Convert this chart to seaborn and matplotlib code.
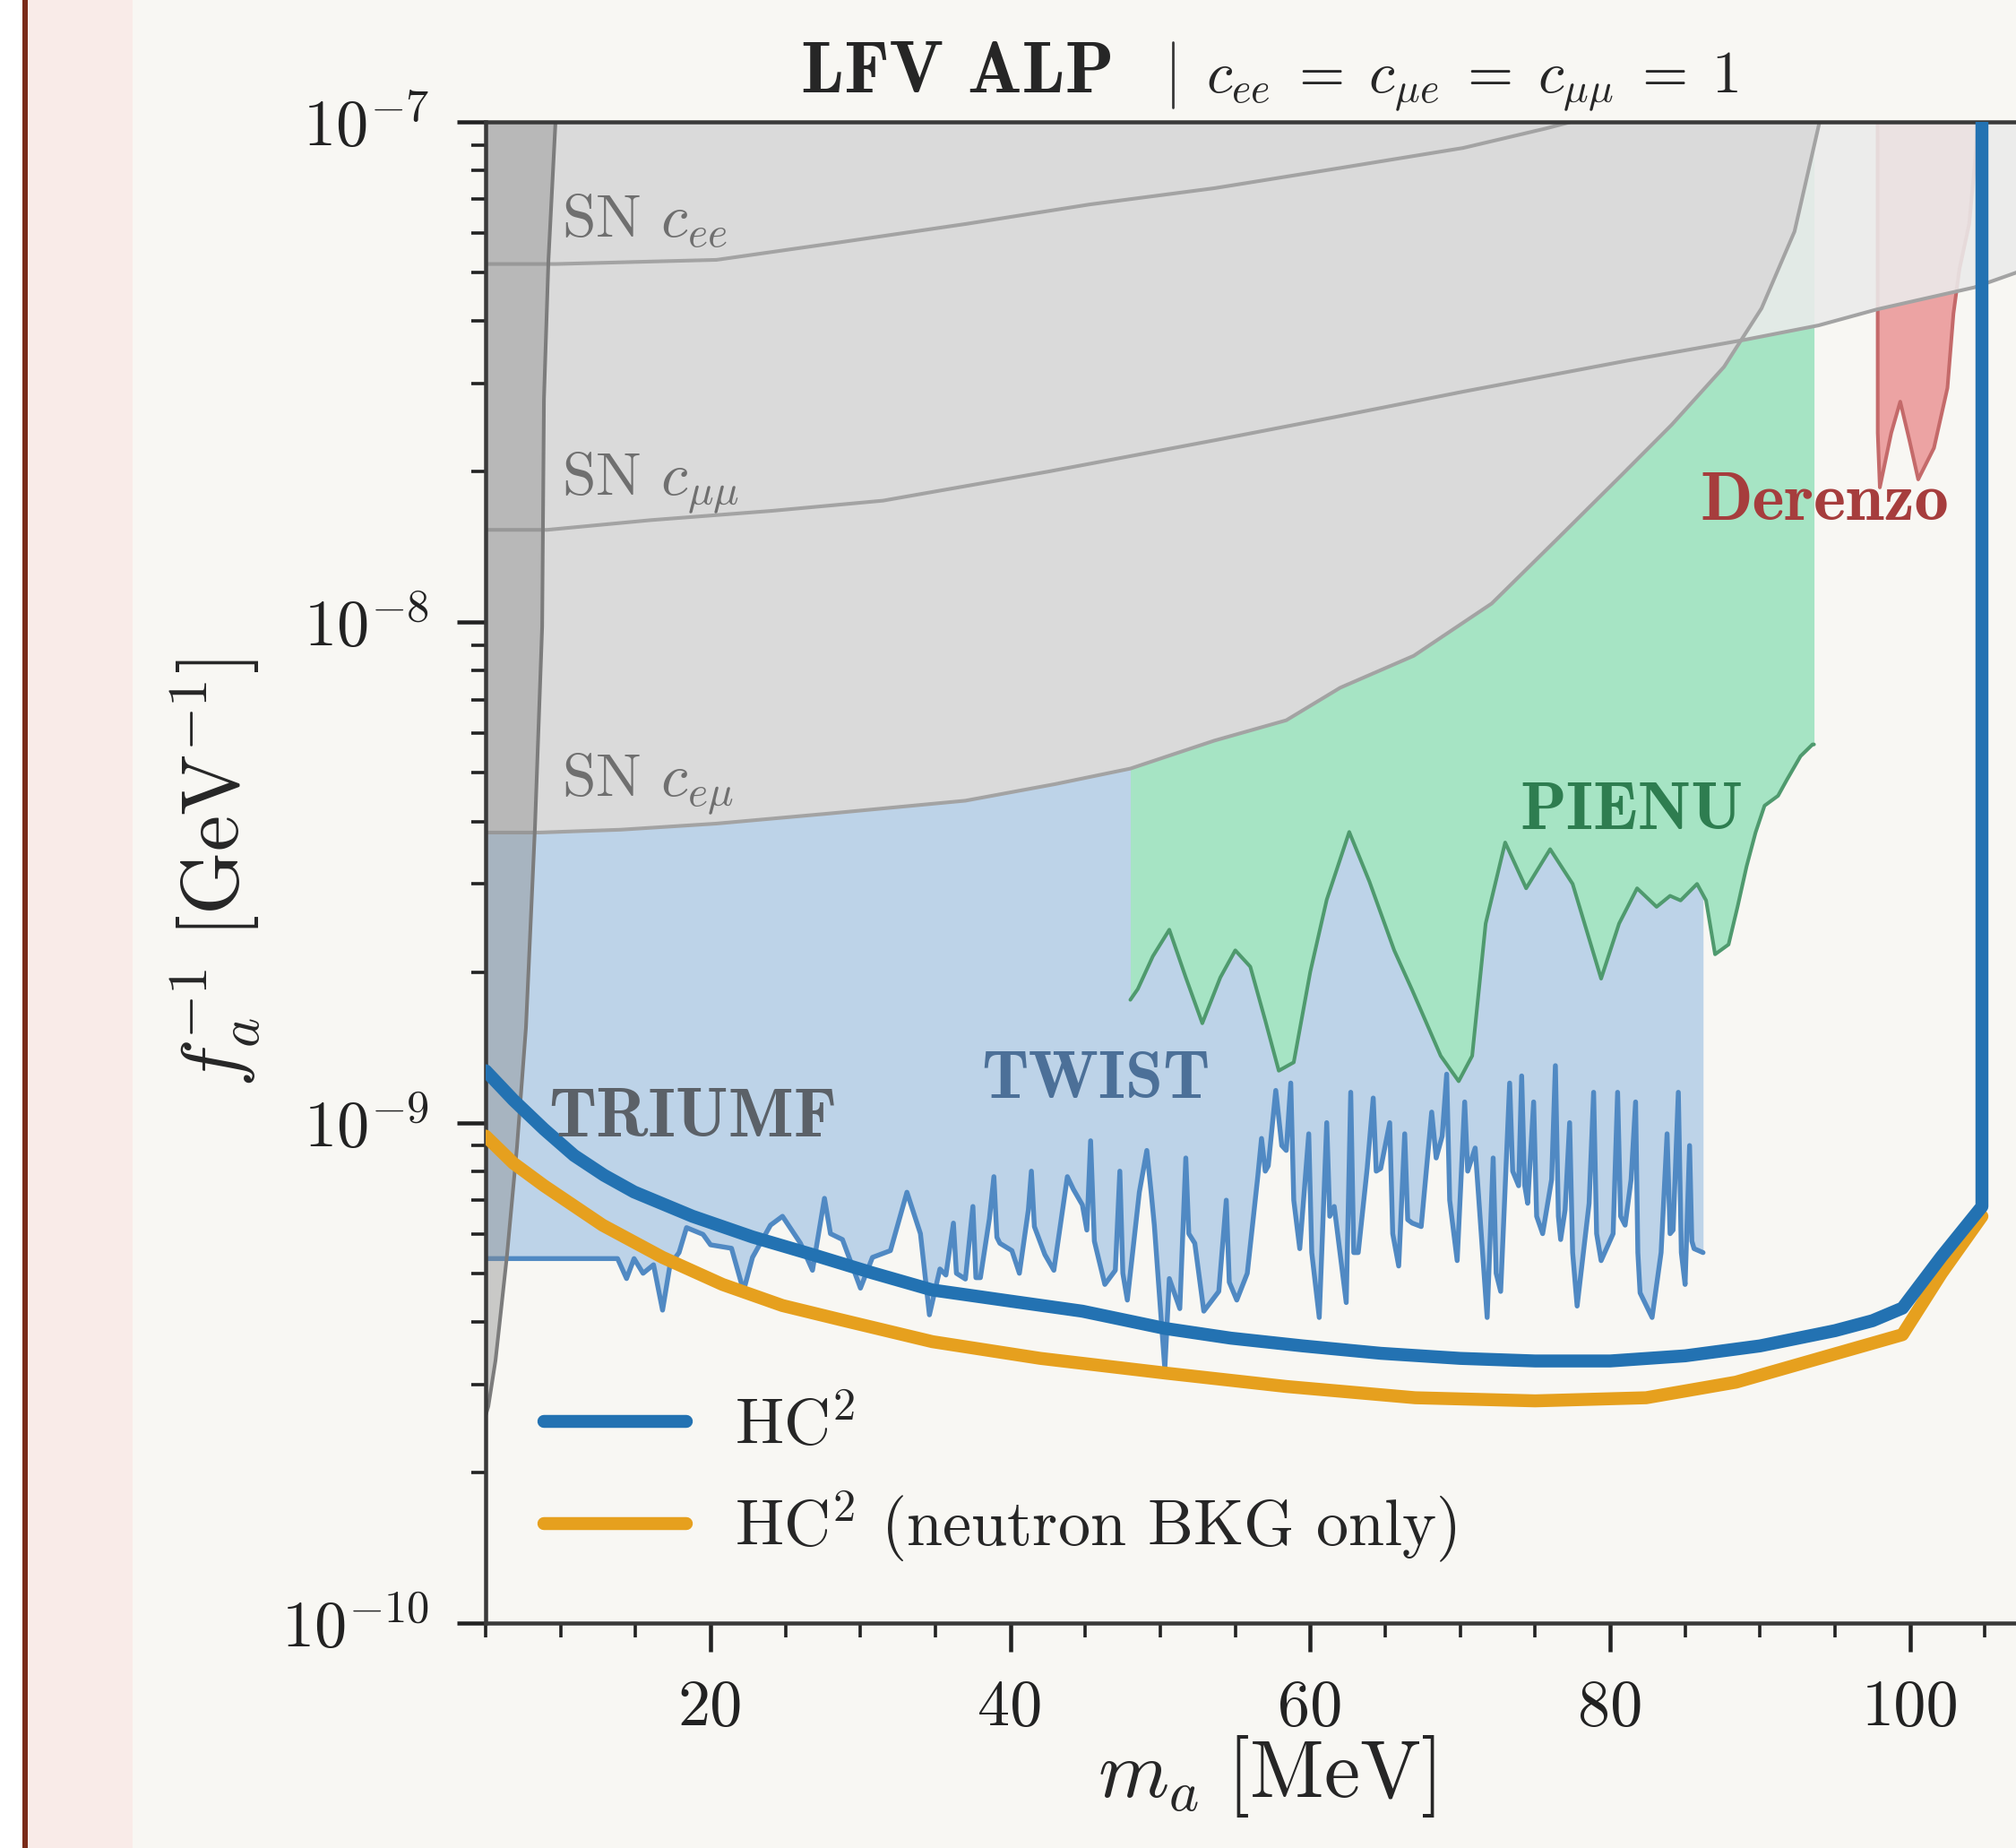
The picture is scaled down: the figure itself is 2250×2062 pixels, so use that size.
import math
import matplotlib
matplotlib.use("Agg")
import matplotlib.pyplot as plt
import seaborn as sns
from matplotlib.patches import Rectangle
from matplotlib.ticker import MultipleLocator, FixedLocator, NullFormatter, FuncFormatter

# HC^2 projected reach (m_a in MeV, 1/f_a in GeV^-1)
hc_mass = [5.0, 6.85, 8.9, 10.9, 12.9, 14.9, 18.8, 22.8, 26.8, 30.8, 34.8, 40.0, 44.8, 50.3, 54.7,
           59.5, 64.7, 70.0, 75.0, 80.0, 85.0, 90.0, 95.0, 97.5, 99.5, 102.1, 104.8, 104.8]
hc_coupling = [1.27e-9, 1.11e-9, 9.7e-10, 8.6e-10, 7.85e-10, 7.27e-10, 6.5e-10, 5.91e-10, 5.45e-10,
               5.01e-10, 4.63e-10, 4.4e-10, 4.2e-10, 3.88e-10, 3.71e-10, 3.58e-10, 3.46e-10, 3.38e-10,
               3.34e-10, 3.34e-10, 3.42e-10, 3.58e-10, 3.84e-10, 4.02e-10, 4.26e-10, 5.4e-10, 6.8e-10, 1e-7]

hcn_mass = [5.0, 6.85, 8.9, 12.8, 16.8, 20.8, 24.8, 28.8, 34.8, 42.0, 50.3, 58.4, 67.0, 75.0,
            82.4, 88.4, 94.4, 99.5, 102.1, 104.8]
hcn_coupling = [9.4e-10, 8.3e-10, 7.48e-10, 6.24e-10, 5.38e-10, 4.75e-10, 4.31e-10, 4.03e-10, 3.65e-10,
                3.38e-10, 3.16e-10, 2.97e-10, 2.82e-10, 2.78e-10, 2.82e-10, 3.03e-10, 3.41e-10,
                3.77e-10, 5.0e-10, 6.5e-10]

# TRIUMF + TWIST excluded region (lower edge)
twist_mass = [5.0, 13.8, 14.4, 14.9, 15.5, 16.2, 16.8, 17.3, 17.9, 18.4, 19.5, 20.0, 21.4, 22.2, 22.8,
              24.0, 24.8, 26.0, 26.8, 27.6, 28.0, 28.8, 30.0, 30.8, 32.0, 33.1, 34.0, 34.6, 35.3, 35.7,
              36.2, 36.4, 37.0, 37.5, 37.7, 38.0, 38.6, 38.9, 39.1, 39.3, 40.1, 40.6, 41.2, 41.4, 41.6,
              42.3, 42.9, 43.8, 44.2, 44.8, 45.1, 45.35, 45.6, 46.3, 47.0, 47.3, 47.5, 47.8, 48.6, 49.1,
              49.4, 49.6, 50.3, 50.6, 51.3, 51.7, 51.9, 52.3, 52.9, 53.9, 54.4, 54.6, 55.1, 55.8, 56.5,
              56.75, 57.0, 57.2, 57.7, 58.1, 58.4, 58.7, 58.9, 59.3, 59.9, 60.1, 60.6, 61.1, 61.3, 61.6,
              62.4, 62.7, 62.9, 63.2, 63.8, 64.2, 64.4, 64.7, 65.3, 65.5, 65.9, 66.3, 66.5, 66.8, 67.4,
              68.1, 68.4, 68.8, 69.1, 69.3, 69.8, 70.3, 70.5, 71.0, 71.8, 72.2, 72.4, 72.7, 73.3, 73.5,
              73.9, 74.1, 74.3, 74.5, 74.9, 75.1, 75.5, 76.1, 76.35, 76.55, 76.7, 77.0, 77.3, 77.5, 77.8,
              78.6, 78.9, 79.1, 79.4, 80.2, 80.5, 80.7, 81.0, 81.4, 81.7, 81.85, 82.0, 82.8, 83.4, 83.8,
              84.0, 84.2, 84.55, 84.75, 85.0, 85.3, 85.45, 85.6, 86.2]
twist_coupling = [5.35e-10, 5.35e-10, 4.88e-10, 5.35e-10, 5.0e-10, 5.2e-10, 4.22e-10, 5.2e-10, 5.5e-10,
                  6.17e-10, 5.98e-10, 5.7e-10, 5.61e-10, 4.61e-10, 5.38e-10, 6.24e-10, 6.5e-10, 5.74e-10,
                  5.07e-10, 7.06e-10, 6.0e-10, 5.84e-10, 4.67e-10, 5.38e-10, 5.55e-10, 7.26e-10, 6.0e-10,
                  4.13e-10, 5.1e-10, 4.96e-10, 6.3e-10, 5.0e-10, 4.87e-10, 6.8e-10, 4.9e-10, 4.9e-10,
                  6.43e-10, 7.8e-10, 5.9e-10, 5.74e-10, 5.55e-10, 5.0e-10, 6.7e-10, 8.0e-10, 6.2e-10,
                  5.45e-10, 5.07e-10, 7.8e-10, 7.36e-10, 6.85e-10, 6.1e-10, 9.2e-10, 5.8e-10, 4.75e-10,
                  5.07e-10, 8.0e-10, 5.0e-10, 4.42e-10, 7.26e-10, 8.8e-10, 7.2e-10, 6.24e-10, 3.22e-10,
                  4.88e-10, 4.25e-10, 8.5e-10, 6.0e-10, 5.74e-10, 4.2e-10, 4.6e-10, 7.0e-10, 4.8e-10,
                  4.42e-10, 5.0e-10, 7.8e-10, 9.3e-10, 8.0e-10, 8.2e-10, 1.16e-9, 9.0e-10, 8.8e-10,
                  1.2e-9, 7.0e-10, 5.6e-10, 9.5e-10, 5.5e-10, 4.08e-10, 1.0e-9, 6.5e-10, 6.8e-10,
                  4.37e-10, 1.15e-9, 5.5e-10, 5.5e-10, 8.12e-10, 1.12e-9, 8.0e-10, 8.1e-10, 1.0e-9,
                  6.0e-10, 5.17e-10, 9.5e-10, 6.4e-10, 6.3e-10, 6.2e-10, 1.05e-9, 8.5e-10, 9.4e-10,
                  1.25e-9, 7.0e-10, 5.3e-10, 1.1e-9, 8.0e-10, 8.9e-10, 4.08e-10, 8.5e-10, 5.0e-10,
                  4.6e-10, 1.2e-9, 8.0e-10, 7.48e-10, 1.24e-9, 7.5e-10, 6.9e-10, 1.1e-9, 6.5e-10,
                  6.0e-10, 7.7e-10, 1.3e-9, 6.5e-10, 5.84e-10, 6.7e-10, 1.0e-9, 5.5e-10, 4.3e-10,
                  6.9e-10, 1.15e-9, 6.0e-10, 5.3e-10, 6.0e-10, 1.15e-9, 6.5e-10, 6.24e-10, 7.7e-10,
                  1.1e-9, 5.5e-10, 4.57e-10, 4.08e-10, 5.5e-10, 9.5e-10, 6.0e-10, 6.1e-10, 1.15e-9,
                  5.5e-10, 4.75e-10, 9.0e-10, 5.8e-10, 5.6e-10, 5.5e-10]

# PIENU excluded region (lower edge)
pienu_mass = [48.0, 48.5, 49.5, 50.6, 51.7, 52.8, 54.0, 55.0, 56.0, 57.0, 57.9, 58.9, 60.0, 61.1, 62.6,
              63.95, 65.6, 66.8, 68.7, 69.9, 70.8, 71.7, 73.0, 74.4, 76.0, 77.5, 79.4, 80.6, 81.8, 83.1,
              84.0, 84.7, 85.8, 86.4, 87.0, 87.9, 88.5, 89.1, 89.7, 90.3, 91.2, 91.8, 92.7, 93.5, 93.6]
pienu_coupling = [1.76e-9, 1.85e-9, 2.15e-9, 2.43e-9, 1.95e-9, 1.58e-9, 1.95e-9, 2.21e-9, 2.05e-9, 1.6e-9,
                  1.27e-9, 1.32e-9, 2.0e-9, 2.79e-9, 3.81e-9, 3.03e-9, 2.21e-9, 1.84e-9, 1.36e-9, 1.21e-9,
                  1.36e-9, 2.5e-9, 3.63e-9, 2.94e-9, 3.52e-9, 3.0e-9, 1.94e-9, 2.5e-9, 2.94e-9, 2.7e-9,
                  2.84e-9, 2.78e-9, 3.0e-9, 2.78e-9, 2.17e-9, 2.27e-9, 2.7e-9, 3.25e-9, 3.8e-9, 4.3e-9,
                  4.5e-9, 4.85e-9, 5.4e-9, 5.7e-9, 5.7e-9]

# Derenzo excluded region (lower edge)
derenzo_mass = [97.84, 97.85, 97.99, 98.75, 99.35, 99.95, 100.55, 101.6, 102.5, 102.9, 103.3, 103.95,
                104.3, 104.55]
derenzo_coupling = [1e-7, 2.39e-8, 1.86e-8, 2.39e-8, 2.76e-8, 2.32e-8, 1.93e-8, 2.23e-8, 2.94e-8,
                    4.14e-8, 5.08e-8, 6.25e-8, 8.1e-8, 1e-7]

# supernova bounds
sn_emu_mass = [5.0, 8.6, 14.0, 20.4, 28.0, 37.0, 43.0, 48.0, 53.6, 58.4, 62.0, 66.9, 72.1, 76.4,
               80.7, 84.1, 87.6, 90.1, 92.3, 93.97]
sn_emu_coupling = [3.8e-9, 3.8e-9, 3.85e-9, 3.96e-9, 4.15e-9, 4.4e-9, 4.75e-9, 5.1e-9, 5.8e-9, 6.37e-9,
                   7.4e-9, 8.57e-9, 1.09e-8, 1.46e-8, 1.96e-8, 2.48e-8, 3.24e-8, 4.24e-8, 6.04e-8, 1e-7]
sn_ee_mass = [5.0, 9.7, 20.4, 28.7, 37.0, 45.3, 53.6, 61.9, 70.2, 75.7, 77.4]
sn_ee_coupling = [5.2e-8, 5.2e-8, 5.3e-8, 5.75e-8, 6.25e-8, 6.84e-8, 7.37e-8, 8.08e-8, 8.87e-8, 9.7e-8, 1e-7]
sn_mumu_mass = [5.0, 9.1, 16.0, 24.1, 31.5, 42.5, 53.6, 61.9, 70.2, 81.3, 89.0, 93.9, 97.8, 104.3,
                107.1, 110.0]
sn_mumu_coupling = [1.53e-8, 1.53e-8, 1.6e-8, 1.67e-8, 1.75e-8, 2.0e-8, 2.31e-8, 2.58e-8, 2.89e-8,
                    3.34e-8, 3.67e-8, 3.92e-8, 4.22e-8, 4.67e-8, 5.0e-8, 5.3e-8]

# dark band at low mass (right edge)
band_mass = [9.66, 9.19, 8.89, 8.77, 8.29, 7.69, 7.09, 6.43, 6.02, 5.66, 5.18, 5.0]
band_coupling = [1e-7, 5.3e-8, 2.79e-8, 9.8e-9, 3.89e-9, 1.55e-9, 8.93e-10, 5.45e-10, 4.2e-10,
                 3.35e-10, 2.71e-10, 2.6e-10]

y_major = [1e-10, 1e-9, 1e-8, 1e-7]
y_minor = [m * 10.0 ** e for e in (-10, -9, -8) for m in range(2, 10)]

W, H, DPI = 2250, 2062, 650
BG = "#f8f7f3"

sns.set_style("ticks")
plt.rcParams["font.family"] = ["cmr10"]
plt.rcParams["mathtext.fontset"] = "cm"
plt.rcParams["axes.unicode_minus"] = False

fig = plt.figure(figsize=(W / DPI, H / DPI), dpi=DPI)
fig.patch.set_facecolor(BG)
fig.add_artist(Rectangle((0, 0), 25 / W, 1, transform=fig.transFigure,
                         facecolor="white", edgecolor="none", zorder=-10))
fig.add_artist(Rectangle((25 / W, 0), 6 / W, 1, transform=fig.transFigure,
                         facecolor="#7a2a18", edgecolor="none", zorder=-10))
fig.add_artist(Rectangle((31 / W, 0), 117 / W, 1, transform=fig.transFigure,
                         facecolor="#f9ebe8", edgecolor="none", zorder=-10))

ax = fig.add_axes([542 / W, 1 - 1811 / H, 1757 / W, 1675 / H])
ax.set_facecolor(BG)
ax.set_yscale("log")
ax.set_xlim(5, 110)
ax.set_ylim(1e-10, 1e-7)
TOP = 1e-7

# Derenzo
ax.fill_between(derenzo_mass, derenzo_coupling, TOP, color="#eca3a3", lw=0, zorder=1.0)
ax.plot(derenzo_mass, derenzo_coupling, color="#c46a6a", lw=0.45, zorder=1.05)

# TRIUMF / TWIST
ax.fill_between(twist_mass, twist_coupling, TOP, color="#bdd3e8", lw=0, zorder=1.1)
ax.plot(twist_mass, twist_coupling, color="#5089c3", lw=0.6, zorder=1.15)

# PIENU
ax.fill_between(pienu_mass, pienu_coupling, TOP, color="#a6e4c4", lw=0, zorder=1.2)
ax.plot(pienu_mass, pienu_coupling, color="#4f9a6e", lw=0.45, zorder=1.25)

# SN c_mumu (light) and SN c_emu (darker)
ax.fill_between(sn_mumu_mass, sn_mumu_coupling, TOP, color="#ebebeb", alpha=0.88, lw=0, zorder=1.5)
ax.fill_between(sn_emu_mass, sn_emu_coupling, TOP, color="#dadada", lw=0, zorder=1.6)
for xs, ys in [(sn_emu_mass, sn_emu_coupling), (sn_ee_mass, sn_ee_coupling),
               (sn_mumu_mass, sn_mumu_coupling)]:
    ax.plot(xs, ys, color="#a3a3a3", lw=0.45, zorder=1.65)

# low-mass band
ax.fill_betweenx(band_coupling, 5.0, band_mass, color="#8a8a8a", alpha=0.42, lw=0, zorder=1.8)
ax.plot(band_mass, band_coupling, color="#7c7c7c", lw=0.45, zorder=1.85)

# HC^2 curves
sns.lineplot(x=hc_mass, y=hc_coupling, estimator=None, sort=False, ax=ax,
             color="#2372b2", lw=1.6, label=r"HC$^2$", zorder=3)
sns.lineplot(x=hcn_mass, y=hcn_coupling, estimator=None, sort=False, ax=ax,
             color="#e6a01e", lw=1.6, label=r"HC$^2$ (neutron BKG only)", zorder=2.9)

# region labels
ax.text(10.1, 5.88e-8, r"SN $c_{ee}$", fontsize=7.5, color="#6f6f6f", zorder=4)
ax.text(10.1, 1.8e-8, r"SN $c_{\mu\mu}$", fontsize=7.5, color="#6f6f6f", zorder=4)
ax.text(10.1, 4.5e-9, r"SN $c_{e\mu}$", fontsize=7.5, color="#6f6f6f", zorder=4)
ax.text(9.2, 9.37e-10, "TRIUMF", fontsize=8.5, family="cmb10", color="#5b6168", zorder=4)
ax.text(38.05, 1.12e-9, "TWIST", fontsize=8.4, family="cmb10", color="#4c7098", zorder=4)
ax.text(74.0, 3.86e-9, "PIENU", fontsize=8.4, family="cmb10", color="#2e7d50", zorder=4)
ax.text(86.0, 1.6e-8, "Derenzo", fontsize=8.5, family="cmb10", color="#a63d3d", zorder=4)

# title
ax.text(0.3995, 1.0197, "LFV ALP", transform=ax.transAxes, fontsize=8.9, family="cmb10",
        ha="right", va="baseline")
ax.plot([0.4365, 0.4365], [1.0096, 1.053], transform=ax.transAxes, color="#333333",
        lw=0.3, clip_on=False)
ax.text(0.4576, 1.0197, r"$c_{ee}\;=\;c_{\mu e}\;=\;c_{\mu\mu}\;=\;1$", transform=ax.transAxes,
        fontsize=7.3, ha="left", va="baseline")

# axes styling
for side in ["top", "left", "bottom", "right"]:
    ax.spines[side].set_color("#3a3a3a")
    ax.spines[side].set_linewidth(0.5)
ax.xaxis.set_major_locator(MultipleLocator(20))
ax.xaxis.set_minor_locator(MultipleLocator(5))
ax.yaxis.set_major_locator(FixedLocator(y_major))
ax.yaxis.set_minor_locator(FixedLocator(y_minor))
ax.yaxis.set_minor_formatter(NullFormatter())
ax.yaxis.set_major_formatter(FuncFormatter(lambda v, p: r"$10^{%d}$" % round(math.log10(v))))
ax.tick_params(which="major", direction="out", length=3.5, width=0.5, labelsize=8, pad=3.5,
               colors="#222222")
ax.tick_params(which="minor", direction="out", length=1.8, width=0.4, colors="#222222")
ax.tick_params(top=False, right=False, which="both")

ax.set_xlabel(r"$m_a\ [\mathrm{MeV}]$", fontsize=10)
ax.set_ylabel(r"$f_a^{-1}\ [\mathrm{GeV}^{-1}]$", fontsize=10)
ax.xaxis.set_label_coords(0.496, -0.0735)
ax.yaxis.set_label_coords(-0.142, 0.5)

ax.legend(loc="lower left", frameon=False, fontsize=8, handlelength=2.2, handletextpad=0.75,
          borderaxespad=0.5, labelspacing=0.5)

fig.savefig("out.png", dpi=DPI, facecolor=BG)
